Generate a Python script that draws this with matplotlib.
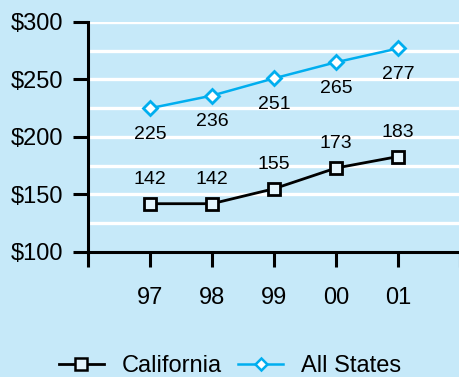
import matplotlib.pyplot as plt
from matplotlib.lines import Line2D

plt.rcParams['font.family'] = ['Liberation Sans', 'DejaVu Sans']

years = ['97', '98', '99', '00', '01']
california = [142, 142, 155, 173, 183]
all_states = [225, 236, 251, 265, 277]

bg = '#c6e9f9'
blue = '#00aeef'
fill = '#e4f5fd'

fig = plt.figure(figsize=(4.6, 3.77), dpi=100)
fig.patch.set_facecolor(bg)
ax = fig.add_axes([88 / 460, 1 - 252 / 377, 372 / 460, 230 / 377])
ax.set_facecolor(bg)

x = list(range(len(years)))

# white gridlines every $25
for g in range(125, 301, 25):
    ax.axhline(g, color='white', lw=2.4, zorder=1)

ax.plot(x, california, color='black', lw=2, marker='s', ms=9, mfc=fill,
        mec='black', mew=2, zorder=3)
ax.plot(x, all_states, color=blue, lw=1.8, marker='D', ms=7, mfc='white',
        mec=blue, mew=2, zorder=3)

for xi, v in zip(x, california):
    ax.annotate(str(v), (xi, v), xytext=(0, 17.5), textcoords='offset points',
                ha='center', va='center', fontsize=14)
for xi, v in zip(x, all_states):
    ax.annotate(str(v), (xi, v), xytext=(0, -19), textcoords='offset points',
                ha='center', va='center', fontsize=14)

ax.set_xlim(-1, 5)
ax.set_ylim(100, 300)
ax.set_yticks([100, 150, 200, 250, 300])
ax.set_yticklabels(['$100', '$150', '$200', '$250', '$300'], fontsize=17)
ax.set_xticks(range(-1, 6))
ax.set_xticklabels([''] + years + [''], fontsize=17)

for s in ['top', 'right']:
    ax.spines[s].set_visible(False)
for s in ['left', 'bottom']:
    ax.spines[s].set_linewidth(2.2)
ax.tick_params(axis='y', length=11, width=2.2, pad=7)
ax.tick_params(axis='x', length=11, width=2.2, pad=14.5)

handles = [
    Line2D([], [], color='black', lw=2, marker='s', ms=8, mfc=fill, mec='black', mew=1.8),
    Line2D([], [], color=blue, lw=1.8, marker='D', ms=6, mfc='white', mec=blue, mew=1.8),
]
fig.legend(handles, ['California', 'All States'], loc='center',
           bbox_to_anchor=(0.5, 1 - 366 / 377), ncol=2, frameon=False,
           fontsize=17, handlelength=1.9, handletextpad=0.75, columnspacing=0.7)

fig.savefig('out.png', dpi=100, facecolor=bg)
